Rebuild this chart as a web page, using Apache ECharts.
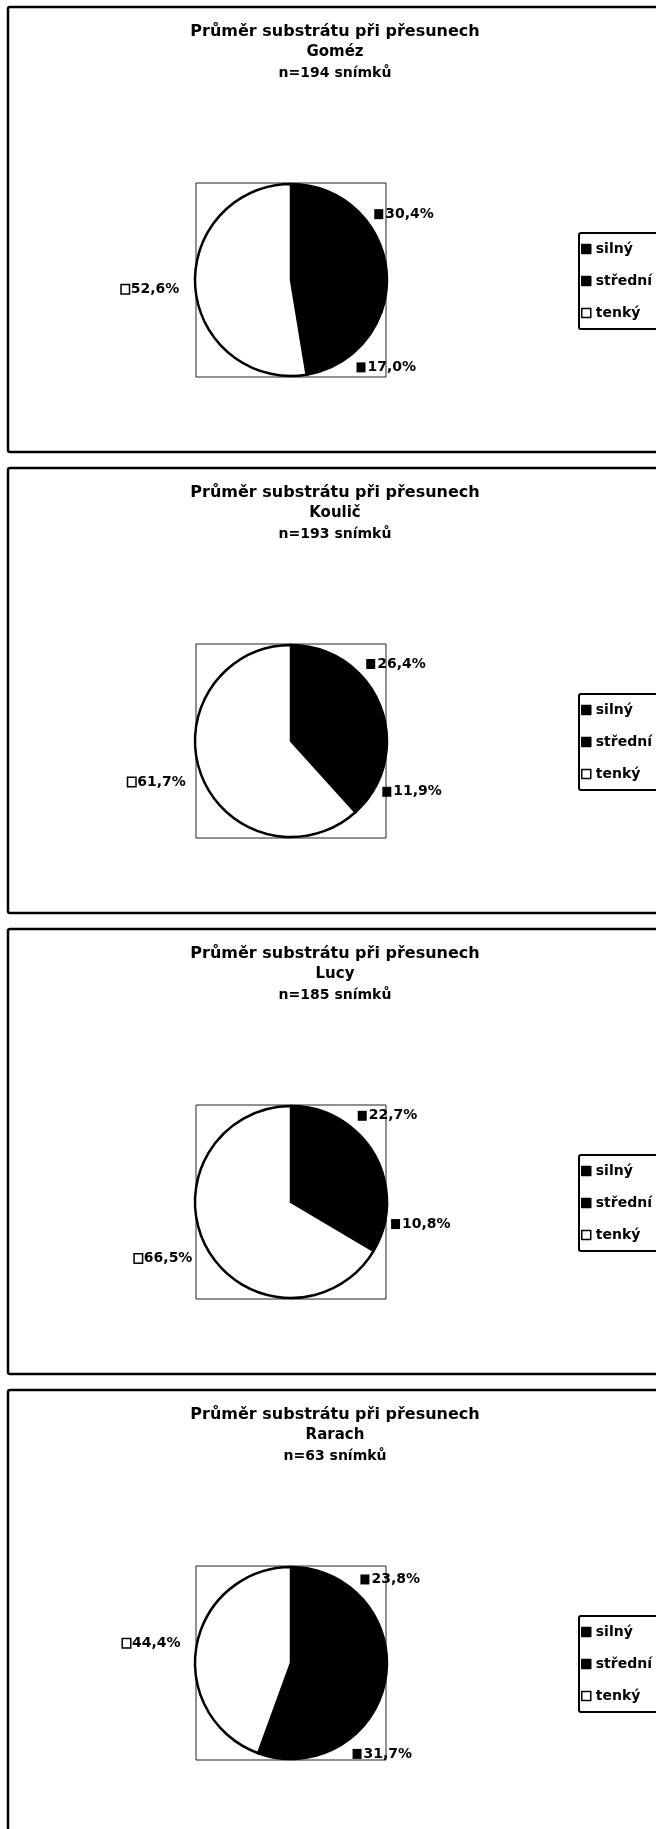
<!DOCTYPE html>
<html>
<head>
<meta charset="utf-8">
<script src="https://cdn.jsdelivr.net/npm/echarts@6/dist/echarts.min.js"></script>
<style>
html,body{margin:0;padding:0;background:#fff;}
#chart{width:656px;height:1829px;}
</style>
</head>
<body>
<div id="chart"></div>
<script>
// ---- data ----
const categories = ['silný', 'střední', 'tenký'];
const sliceColors = ['#000000', '#000000', '#ffffff'];
const titleMain = 'Průměr substrátu při přesunech';
const animals = ['Goméz', 'Koulič', 'Lucy', 'Rarach'];
const counts = [194, 193, 185, 63];
const gomez = [30.4, 17.0, 52.6];
const koulic = [26.4, 11.9, 61.7];
const lucy = [22.7, 10.8, 66.5];
const rarach = [23.8, 31.7, 44.4];
const panelValues = [gomez, koulic, lucy, rarach];

// ---- layout ----
const FONT = 'DejaVu Sans';
const TOP0 = 7, STEP = 461;
const CX = 291, CY_OFF = 273, R = 96;

const chart = echarts.init(document.getElementById('chart'), null, {renderer: 'canvas'});

const titles = [], series = [], legends = [], graphics = [];
panelValues.forEach(function (vals, i) {
  const top = TOP0 + i * STEP;
  graphics.push({
    type: 'rect', silent: true, z: 0,
    shape: {x: 8, y: top, width: 662, height: 445, r: 2},
    style: {fill: 'none', stroke: '#000', lineWidth: 2.5}
  });
  graphics.push({
    type: 'rect', silent: true, z: 0,
    shape: {x: 196, y: top + 176, width: 190, height: 194},
    style: {fill: 'none', stroke: '#222', lineWidth: 1}
  });
  titles.push({
    text: '{a|' + titleMain + '}\n{b|' + animals[i] + '}\n{c|n=' + counts[i] + ' snímků}',
    left: 335, top: top + 14, textAlign: 'center', padding: 0,
    textStyle: {
      rich: {
        a: {fontFamily: FONT, fontSize: 16, fontWeight: 'bold', color: '#000', lineHeight: 21, align: 'center'},
        b: {fontFamily: FONT, fontSize: 15, fontWeight: 'bold', color: '#000', lineHeight: 21, align: 'center'},
        c: {fontFamily: FONT, fontSize: 14, fontWeight: 'bold', color: '#000', lineHeight: 21, align: 'center'}
      }
    }
  });
  legends.push({
    data: categories,
    orient: 'vertical',
    left: 579, top: top + 226,
    padding: [9, 22, 9, 2],
    itemGap: 18,
    itemWidth: 9, itemHeight: 9,
    icon: 'rect',
    borderColor: '#000', borderWidth: 2, borderRadius: 2,
    backgroundColor: '#fff',
    selectedMode: false,
    itemStyle: {borderColor: '#000', borderWidth: 1.5},
    textStyle: {fontFamily: FONT, fontSize: 14, fontWeight: 'bold', color: '#000'}
  });
  series.push({
    type: 'pie',
    center: [CX, top + CY_OFF],
    radius: R,
    startAngle: 90,
    clockwise: true,
    animation: false,
    avoidLabelOverlap: false,
    emphasis: {disabled: true},
    itemStyle: {borderColor: '#000', borderWidth: 2.5},
    label: {
      show: true,
      position: 'outside',
      distanceToLabelLine: 0,
      formatter: function (p) {
        const mark = p.color === '#ffffff' ? '{w|}' : '{k|}';
        return mark + '{v|' + p.value.toFixed(1).replace('.', ',') + '%}';
      },
      rich: {
        k: {width: 9, height: 10, backgroundColor: '#000'},
        w: {width: 7, height: 8, backgroundColor: '#fff', borderColor: '#000', borderWidth: 1.5},
        v: {fontFamily: FONT, fontSize: 14, fontWeight: 'bold', color: '#000', padding: [0, 0, 0, 2]}
      }
    },
    labelLine: {show: false, length: 6, length2: 0},
    labelLayout: function (params) {
      const pts = params.labelLinePoints;
      if (!pts) return {};
      const ddx = pts[1][0] - pts[0][0], ddy = pts[1][1] - pts[0][1];
      const len = Math.sqrt(ddx * ddx + ddy * ddy) || 1;
      const ux = ddx / len, uy = ddy / len;
      return {dx: ux < 0 ? -10 : 0, dy: uy * 12};
    },
    data: categories.map(function (c, k) {
      return {name: c, value: vals[k], itemStyle: {color: sliceColors[k]}};
    })
  });
});

chart.setOption({
  backgroundColor: '#fff',
  animation: false,
  title: titles,
  legend: legends,
  graphic: graphics,
  series: series
});
</script>
</body>
</html>
